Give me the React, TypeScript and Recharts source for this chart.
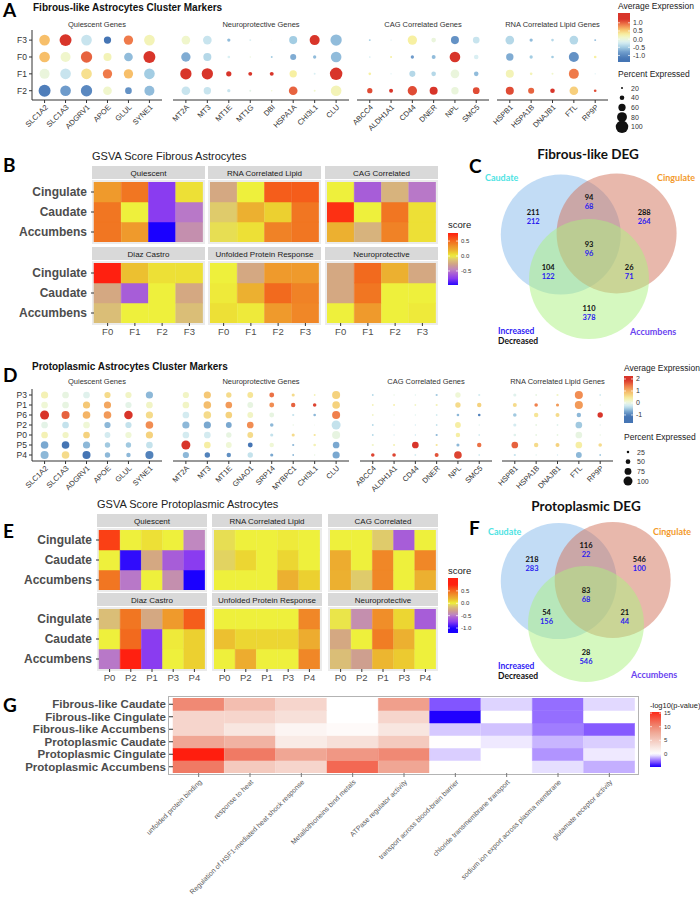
import React from 'react';
import { ScatterChart, Scatter, XAxis, YAxis, BarChart, Bar, Cell } from 'recharts';

const SANS = '"Liberation Sans", Arial, sans-serif';
const LATO = 'Lato, "Liberation Sans", sans-serif';

// ---------- Panel A: fibrous-like dot plot ----------
const fibRows = ['F3', 'F0', 'F1', 'F2'];
const fibQuiescentGenes = ['SLC1A2', 'SLC1A3', 'ADGRV1', 'APOE', 'GLUL', 'SYNE1'];
const fibNeuroGenes = ['MT2A', 'MT3', 'MT1E', 'MT1G', 'DBI', 'HSPA1A', 'CHI3L1', 'CLU'];
const fibCagGenes = ['ABCC4', 'ALDH1A1', 'CD44', 'DNER', 'NPL', 'SMC5'];
const rnaGenes = ['HSPB1', 'HSPA1B', 'DNAJB1', 'FTL', 'RP9P'];
const geneGroups = ['Quiescent Genes', 'Neuroprotective Genes', 'CAG Correlated Genes', 'RNA Correlated Lipid Genes'];

const fibQuiescentExpr = [
  [0.6, 1.2, -0.3, -1.2, 0.9, 0.2],
  [0.6, 0.1, 1.0, 0.2, -0.6, 1.2],
  [0.0, -0.3, 0.4, 0.9, 0.6, -0.5],
  [-1.1, -0.8, -1.0, 0.1, -0.9, -0.6],
];
const fibQuiescentPct = [
  [86, 96, 86, 60, 76, 86],
  [86, 81, 91, 66, 71, 96],
  [81, 86, 86, 76, 76, 86],
  [96, 86, 91, 71, 56, 81],
];
const fibNeuroExpr = [
  [0.1, -0.3, -0.6, -0.2, 0.0, -0.5, 1.3, -0.6],
  [-0.7, -0.4, -0.2, 0.0, -0.5, -0.7, -0.6, -0.6],
  [1.2, 1.3, 1.2, 1.2, 1.2, 0.3, -0.2, 1.2],
  [-0.3, -0.3, -0.3, -0.1, 0.1, 1.0, 0.1, 0.2],
];
const fibNeuroPct = [
  [71, 71, 30, 20, 12, 66, 81, 91],
  [76, 66, 25, 15, 20, 51, 30, 86],
  [91, 91, 45, 35, 35, 61, 20, 100],
  [71, 61, 30, 20, 15, 71, 20, 86],
];
const fibCagExpr = [
  [-0.5, -0.2, 0.3, 0.0, -0.9, -0.3],
  [-0.2, 0.3, -0.8, -0.6, 1.2, -0.2],
  [0.3, -0.2, -0.4, -0.4, 0.0, -0.6],
  [1.1, 1.2, 1.1, 1.2, 0.0, 1.1],
];
const fibCagPct = [
  [20, 15, 76, 40, 66, 56],
  [18, 20, 30, 35, 86, 40],
  [25, 15, 51, 40, 71, 40],
  [45, 35, 76, 66, 61, 56],
];
const fibRnaExpr = [
  [-0.4, -0.6, -0.4, -0.4, -0.6],
  [-0.7, -0.5, -0.5, -0.9, 0.3],
  [0.2, 0.2, 0.1, 0.9, -0.2],
  [1.1, 1.0, 1.2, 0.5, 1.1],
];
const fibRnaPct = [
  [71, 30, 25, 71, 20],
  [61, 30, 25, 81, 25],
  [66, 25, 20, 81, 15],
  [66, 51, 40, 71, 25],
];

// ---------- Panel D: protoplasmic dot plot ----------
const protoRows = ['P3', 'P1', 'P6', 'P2', 'P0', 'P5', 'P4'];
const protoNeuroGenes = ['MT2A', 'MT3', 'MT1E', 'GNAO1', 'SRP14', 'MYBPC1', 'CHI3L1', 'CLU'];
const protoQuiescentExpr = [
  [0.3, 0.0, -0.1, 0.6, 0.2, -0.6],
  [0.1, 0.0, 0.8, 1.1, -0.05, 0.2],
  [1.9, 1.6, 1.0, 1.2, 2.0, 0.6],
  [-0.05, -0.3, 0.1, -0.6, -0.3, 1.3],
  [0.3, 0.2, 0.7, -0.2, 0.1, 0.7],
  [-0.7, -1.1, -0.6, -0.5, -0.5, -0.3],
  [-0.6, 0.6, -1.1, -0.6, -0.6, -1.0],
];
const protoQuiescentPct = [
  [79, 73, 73, 68, 68, 79],
  [73, 73, 79, 79, 68, 73],
  [100, 89, 84, 84, 94, 79],
  [73, 73, 73, 68, 68, 84],
  [73, 68, 73, 63, 68, 79],
  [84, 84, 79, 58, 58, 73],
  [89, 84, 89, 58, 47, 89],
];
const protoNeuroExpr = [
  [0.2, 0.8, 0.6, 0.5, 1.5, 0.6, 0.3, 0.7],
  [0.2, 0.9, 1.2, 0.0, 1.3, 1.6, 1.8, 0.7],
  [-0.2, 0.6, 0.7, 0.2, 0.0, -0.3, -0.6, 1.4],
  [-0.6, -0.7, -0.7, 1.3, -0.6, 0.0, 0.0, -0.3],
  [-0.2, -0.2, 0.0, 0.6, -0.3, 0.6, 0.5, 0.0],
  [2.0, 0.4, 0.1, -1.2, 0.1, -0.6, 0.3, -0.7],
  [-0.6, -1.0, -0.9, -0.3, -0.7, -0.6, 0.0, -0.7],
];
const protoNeuroPct = [
  [68, 79, 58, 63, 52, 32, 16, 89],
  [73, 84, 73, 63, 52, 47, 37, 84],
  [73, 84, 73, 63, 52, 21, 26, 89],
  [79, 79, 63, 73, 37, 11, 6, 100],
  [73, 73, 58, 63, 32, 32, 21, 89],
  [100, 73, 63, 52, 47, 21, 26, 73],
  [68, 58, 47, 58, 32, 16, 11, 79],
];
const protoCagExpr = [
  [-0.4, 0.0, -0.1, -0.5, 0.1, -0.2],
  [0.3, 0.4, 0.2, 0.3, 0.6, 0.7],
  [0.2, 0.0, -0.1, -0.2, -0.6, -1.0],
  [-0.4, -0.2, -0.2, -0.3, 0.4, -0.1],
  [-0.4, -0.2, -0.3, -0.6, 0.4, -0.2],
  [0.2, 0.3, 1.9, 0.5, -0.6, 1.5],
  [1.8, 1.8, -0.2, 1.7, 1.8, -0.2],
];
const protoCagPct = [
  [16, 11, 11, 21, 58, 21],
  [16, 16, 16, 21, 58, 47],
  [16, 11, 11, 16, 26, 26],
  [16, 11, 11, 16, 63, 11],
  [16, 11, 11, 21, 47, 16],
  [21, 21, 73, 21, 32, 47],
  [37, 37, 16, 42, 84, 16],
];
const protoRnaExpr = [
  [-0.1, 0.0, 0.2, 1.3, -0.2],
  [0.6, 1.4, 1.2, 1.2, 0.0],
  [-0.5, 0.5, 0.6, -0.6, 1.9],
  [-0.2, 0.0, -0.1, -0.5, -0.1],
  [-0.1, 0.0, 0.0, 0.0, 0.0],
  [1.6, 0.6, 0.7, 0.4, 0.6],
  [-0.3, -0.1, -0.2, -0.6, -0.5],
];
const protoRnaPct = [
  [32, 16, 21, 89, 16],
  [42, 37, 32, 89, 11],
  [37, 47, 42, 47, 58],
  [32, 16, 16, 73, 11],
  [26, 16, 16, 73, 11],
  [73, 47, 42, 73, 37],
  [21, 11, 11, 63, 16],
];

// ---------- Panels B / E: GSVA heatmaps ----------
const regions = ['Cingulate', 'Caudate', 'Accumbens'];
const gsvaSets = ['Quiescent', 'RNA Correlated Lipid', 'CAG Correlated', 'Diaz Castro', 'Unfolded Protein Response', 'Neuroprotective'];
const fibClusters = ['F0', 'F1', 'F2', 'F3'];
const fibGsvaQuiescent = [[0.3, 0.45, -0.75, 0.05], [0.45, 0.0, -0.75, -0.5], [0.45, 0.3, -1.0, -0.4]];
const fibGsvaRnaLipid = [[-0.25, 0.0, 0.55, 0.55], [-0.1, 0.2, 0.1, 0.45], [-0.05, 0.05, 0.4, 0.45]];
const fibGsvaCag = [[0.0, -0.6, -0.2, -0.5], [0.7, 0.0, 0.45, 0.05], [0.2, -0.2, 0.4, 0.05]];
const fibGsvaDiaz = [[0.75, 0.15, 0.05, 0.05], [-0.25, -0.6, 0.0, -0.25], [-0.15, 0.0, 0.0, -0.15]];
const fibGsvaUpr = [[0.0, -0.25, 0.3, 0.3], [0.02, 0.2, 0.5, 0.4], [0.05, 0.02, 0.3, 0.38]];
const fibGsvaNeuro = [[-0.25, 0.5, 0.2, -0.25], [-0.25, 0.45, 0.0, 0.0], [0.0, 0.3, 0.0, 0.02]];

const protoClusters = ['P0', 'P2', 'P1', 'P3', 'P4'];
const protoGsvaQuiescent = [[0.65, 0.0, 0.05, 0.0, -0.45], [0.0, -0.95, -0.25, -0.6, -0.75], [0.45, -0.5, 0.0, -0.4, -1.0]];
const protoGsvaRnaLipid = [[-0.05, 0.0, 0.0, 0.02, 0.0], [-0.08, 0.08, 0.0, 0.08, 0.0], [0.0, 0.0, 0.0, 0.2, 0.1]];
const protoGsvaCag = [[0.0, 0.0, -0.1, -0.6, 0.0], [0.22, 0.0, 0.38, 0.0, 0.38], [0.2, -0.1, 0.38, 0.0, 0.2]];
const protoGsvaDiaz = [[-0.15, 0.45, -0.25, 0.3, 0.55], [0.0, 0.5, -0.75, 0.02, 0.1], [-0.5, 0.75, -0.75, 0.0, 0.1]];
const protoGsvaUpr = [[0.0, 0.0, 0.0, 0.0, 0.38], [0.15, 0.08, 0.08, 0.08, 0.22], [0.0, 0.22, 0.0, 0.0, 0.38]];
const protoGsvaNeuro = [[-0.03, -0.4, 0.35, 0.08, -0.6], [-0.25, 0.0, 0.42, 0.2, 0.0], [-0.15, -0.3, 0.18, 0.12, 0.0]];

// ---------- Panels C / F: DEG Venn counts ----------
// region order: Caudate only, Caudate∩Cingulate, Cingulate only, all three, Caudate∩Accumbens, Cingulate∩Accumbens, Accumbens only
const fibDegDecreased = [211, 94, 288, 93, 104, 26, 110];
const fibDegIncreased = [212, 68, 264, 96, 122, 71, 378];
const protoDegDecreased = [218, 116, 546, 83, 54, 21, 28];
const protoDegIncreased = [283, 22, 100, 68, 156, 44, 546];

// ---------- Panel G: enrichment ----------
const enrichRows = ['Fibrous-like Caudate', 'Fibrous-like Cingulate', 'Fibrous-like Accumbens', 'Protoplasmic Caudate', 'Protoplasmic Cingulate', 'Protoplasmic Accumbens'];
const enrichTerms = [
  'unfolded protein binding',
  'response to heat',
  'Regulation of HSF1-mediated heat shock response',
  'Metallothioneins bind metals',
  'ATPase regulator activity',
  'transport across blood-brain barrier',
  'chloride transmembrane transport',
  'sodium ion export across plasma membrane',
  'glutamate receptor activity',
];
const enrichLogP = [
  [10, 6, 4, 0, 8.5, -3, -0.8, -2.5, -0.7],
  [4, 4, 3, 0, 4, -4.5, 0, -2.5, 0],
  [4, 2.5, 1, 0.5, 2.5, -1, -1.1, -2.2, -2.9],
  [8, 7, 2, 3, 5, 0.1, -0.4, -1.3, -0.9],
  [16, 11, 8, 9, 10, -0.9, 0, -1.8, -0.4],
  [11, 5, 4, 12, 8, 0.1, 0, -0.6, -1.4],
];

// ---------- colour scales ----------
type Stop = [number, string];
function hexRgb(h: string) {
  const n = parseInt(h.slice(1), 16);
  return [(n >> 16) & 255, (n >> 8) & 255, n & 255];
}
function makeScale(stops: Stop[]) {
  return (v: number) => {
    if (v <= stops[0][0]) return stops[0][1];
    const last = stops[stops.length - 1];
    if (v >= last[0]) return last[1];
    for (let i = 1; i < stops.length; i++) {
      if (v <= stops[i][0]) {
        const t = (v - stops[i - 1][0]) / (stops[i][0] - stops[i - 1][0]);
        const a = hexRgb(stops[i - 1][1]);
        const b = hexRgb(stops[i][1]);
        return `rgb(${a.map((x, k) => Math.round(x + (b[k] - x) * t)).join(',')})`;
      }
    }
    return last[1];
  };
}

const exprColorA = makeScale([
  [-1.2, '#4575b4'], [-0.8, '#6e9bcb'], [-0.5, '#a3cde3'], [-0.2, '#daeff3'], [0.05, '#eef7d6'],
  [0.3, '#f7f0a2'], [0.6, '#f7bf6a'], [0.9, '#ef7a4a'], [1.2, '#d8352a'],
]);
const exprColorD = makeScale([
  [-1.1, '#4575b4'], [-0.7, '#7aa8d0'], [-0.4, '#b4d9e8'], [-0.15, '#dcf0f2'], [0.1, '#eff7d6'],
  [0.4, '#f6eea4'], [0.7, '#f5d27e'], [1.0, '#f4b466'], [1.4, '#f0804c'], [1.9, '#d8352a'],
]);
const gsvaColor = makeScale([
  [-1.0, '#1a00ff'], [-0.75, '#8a3cf0'], [-0.55, '#b068d0'], [-0.45, '#c088c0'], [-0.35, '#c8959c'],
  [-0.25, '#d4a882'], [-0.12, '#dcc474'], [0, '#eef03c'], [0.1, '#ecd030'], [0.2, '#ecb030'],
  [0.3, '#ef9a2c'], [0.4, '#f08226'], [0.5, '#f26a1e'], [0.6, '#f85018'], [0.75, '#ff2010'],
]);
const enrichColor = makeScale([
  [-4.5, '#2000ff'], [-3, '#8255ff'], [-2, '#a887ff'], [-1, '#d6c9ff'], [0, '#ffffff'],
  [2.5, '#f8e6e0'], [5, '#f4cabe'], [8, '#f0a694'], [11, '#f07a64'], [16, '#ff1e0e'],
]);

const radiusA = (p: number) => Math.max(0.4, (6.25 * (p - 5)) / 95);
const radiusD = (p: number) => Math.max(0.4, 0.2 + 0.043 * p);

// ---------- components ----------
const PAD = 24; // room on the left for rotated gene labels

function DotFacet(props: {
  left: number; top: number; plotW: number; plotH: number; yWidth: number; showY: boolean;
  genes: string[]; rows: string[]; expr: number[][]; pct: number[][]; yDomain: [number, number];
  color: (v: number) => string; radius: (p: number) => number;
}) {
  const { left, top, plotW, plotH, yWidth, showY, genes, rows, expr, pct, yDomain, color, radius } = props;
  const n = rows.length;
  const data: { x: number; y: number; e: number; p: number }[] = [];
  rows.forEach((_, ri) => genes.forEach((__, gi) => data.push({ x: gi, y: n - 1 - ri, e: expr[ri][gi], p: pct[ri][gi] })));
  const yW = showY ? yWidth : 0;
  const ml = showY ? 0 : PAD;
  return (
    <div style={{ position: 'absolute', left: left - ml, top }}>
      <ScatterChart width={ml + yW + plotW} height={plotH + 42} margin={{ top: 0, right: 0, bottom: 0, left: ml }}>
        <XAxis
          type="number" dataKey="x" domain={[-0.6, genes.length - 0.4]} ticks={genes.map((_, i) => i)}
          interval={0} tickFormatter={(v) => genes[v]} angle={-45} textAnchor="end" height={42}
          tickSize={3} tickMargin={1} stroke="#333" tick={{ fontSize: 7.5, fill: '#333' }} allowDataOverflow
        />
        <YAxis
          type="number" dataKey="y" domain={yDomain} ticks={rows.map((_, i) => i)} interval={0}
          tickFormatter={(v) => rows[n - 1 - v]} hide={!showY} width={yW} tickSize={3} tickMargin={2}
          stroke="#333" tick={{ fontSize: 8.5, fill: '#333' }} allowDataOverflow
        />
        <Scatter
          data={data}
          isAnimationActive={false}
          shape={(s: any) => <circle cx={s.cx} cy={s.cy} r={radius(s.payload.p)} fill={color(s.payload.e)} />}
        />
      </ScatterChart>
    </div>
  );
}

function HeatFacet(props: {
  stripLeft: number; stripW: number; tilesTop: number; tileH: number;
  cols: string[]; values: number[][]; showY: boolean; showX: boolean;
}) {
  const { stripLeft, stripW, tilesTop, tileH, cols, values, showY, showX } = props;
  const tilesLeft = stripLeft + 2;
  const tilesW = stripW - 4;
  const yW = showY ? tilesLeft : 0;
  const n = regions.length;
  const data = cols.map((c) => {
    const d: Record<string, any> = { name: c };
    regions.forEach((r) => { d[r] = 1; });
    return d;
  });
  const order = regions.map((_, i) => n - 1 - i);
  return (
    <div style={{ position: 'absolute', left: showY ? 0 : tilesLeft, top: tilesTop }}>
      <BarChart width={yW + tilesW} height={tileH + (showX ? 20 : 0)} data={data} margin={{ top: 0, right: 0, bottom: 0, left: 0 }} barCategoryGap={0} barGap={0}>
        <XAxis dataKey="name" hide={!showX} height={20} axisLine={false} tickSize={3} tickMargin={2} interval={0} stroke="#333" tick={{ fontSize: 9.5, fill: '#4d4d4d' }} />
        <YAxis
          type="number" domain={[0, n]} ticks={regions.map((_, i) => i + 0.5)} interval={0}
          tickFormatter={(v) => regions[n - 1 - Math.floor(v)]} hide={!showY} width={yW}
          axisLine={false} tickSize={3} tickMargin={4} stroke="#333"
          tick={{ fontSize: 12, fontWeight: 700, fill: '#4d4d4d' }} allowDataOverflow
        />
        {order.map((k) => (
          <Bar key={regions[k]} dataKey={regions[k]} stackId="s" isAnimationActive={false}>
            {values[k].map((v, j) => (
              <Cell key={j} fill={gsvaColor(v)} stroke={gsvaColor(v)} strokeWidth={0.5} />
            ))}
          </Bar>
        ))}
      </BarChart>
    </div>
  );
}

// Venn layout in units of circle radius (centre of the three-way overlap at 0,0)
const vennSetNames = ['Caudate', 'Cingulate', 'Accumbens'];
const vennCentres: [number, number][] = [[-0.47, 0.24], [0.46, 0.26], [0, -0.5]];
const vennFill: Record<string, string> = { Caudate: '#85b9eb', Cingulate: '#d1715a', Accumbens: '#abf180' };
const vennRegionPos: [number, number][] = [[-0.93, 0.53], [0, 0.78], [0.92, 0.53], [0, 0], [-0.68, -0.38], [0.67, -0.38], [0, -1.07]];

function Venn(props: { left: number; top: number; ppu: number; xDomain: [number, number]; yDomain: [number, number]; dec: number[]; inc: number[] }) {
  const { left, top, ppu, xDomain, yDomain, dec, inc } = props;
  const circles = vennSetNames.map((name, i) => ({ name, x: vennCentres[i][0], y: vennCentres[i][1] }));
  const labels = vennRegionPos.map((p, i) => ({ x: p[0], y: p[1], dec: dec[i], inc: inc[i] }));
  const w = (xDomain[1] - xDomain[0]) * ppu;
  const h = (yDomain[1] - yDomain[0]) * ppu;
  return (
    <div style={{ position: 'absolute', left, top }}>
      <ScatterChart width={w} height={h} margin={{ top: 0, right: 0, bottom: 0, left: 0 }}>
        <XAxis type="number" dataKey="x" domain={xDomain} hide allowDataOverflow />
        <YAxis type="number" dataKey="y" domain={yDomain} hide allowDataOverflow />
        <Scatter
          data={circles}
          isAnimationActive={false}
          shape={(s: any) => <circle cx={s.cx} cy={s.cy} r={ppu} fill={vennFill[s.payload.name]} fillOpacity={0.5} />}
        />
        <Scatter
          data={labels}
          isAnimationActive={false}
          shape={(s: any) => (
            <g fontFamily={LATO} fontWeight={700} fontSize={7.5} textAnchor="middle">
              <text x={s.cx} y={s.cy - 1.8} fill="#111">{s.payload.dec}</text>
              <text x={s.cx} y={s.cy + 7.2} fill="#2b1cf0">{s.payload.inc}</text>
            </g>
          )}
        />
      </ScatterChart>
    </div>
  );
}

function ColorBar(props: { id: string; x: number; y: number; w: number; h: number; vTop: number; vBottom: number; scale: (v: number) => string; ticks: number[]; fmt: (v: number) => string; fs: number }) {
  const { id, x, y, w, h, vTop, vBottom, scale, ticks, fmt, fs } = props;
  const samples = Array.from({ length: 25 }, (_, i) => i / 24);
  return (
    <g>
      <defs>
        <linearGradient id={id} x1="0" y1="0" x2="0" y2="1">
          {samples.map((t, i) => (
            <stop key={i} offset={`${t * 100}%`} stopColor={scale(vTop + (vBottom - vTop) * t)} />
          ))}
        </linearGradient>
      </defs>
      <rect x={x} y={y} width={w} height={h} fill={`url(#${id})`} />
      {ticks.map((t) => {
        const ty = y + ((vTop - t) / (vTop - vBottom)) * h;
        return (
          <g key={t}>
            <line x1={x} x2={x + 2} y1={ty} y2={ty} stroke="#fff" strokeWidth={0.7} />
            <line x1={x + w - 2} x2={x + w} y1={ty} y2={ty} stroke="#fff" strokeWidth={0.7} />
            <text x={x + w + 3} y={ty + fs * 0.35} fontSize={fs} fill="#333">{fmt(t)}</text>
          </g>
        );
      })}
    </g>
  );
}

function SizeLegend(props: { x: number; y: number; title: string; titleY: number; values: number[]; step: number; radius: (p: number) => number }) {
  const { x, y, title, titleY, values, step, radius } = props;
  return (
    <g>
      <text x={x} y={titleY} fontSize={8.5} fill="#222">{title}</text>
      {values.map((v, i) => (
        <g key={v}>
          <circle cx={x + 4} cy={y + i * step} r={radius(v)} fill="#111" />
          <text x={x + 13} y={y + i * step + 2.5} fontSize={7} fill="#333">{v}</text>
        </g>
      ))}
    </g>
  );
}

const fibGsva = [fibGsvaQuiescent, fibGsvaRnaLipid, fibGsvaCag, fibGsvaDiaz, fibGsvaUpr, fibGsvaNeuro];
const protoGsva = [protoGsvaQuiescent, protoGsvaRnaLipid, protoGsvaCag, protoGsvaDiaz, protoGsvaUpr, protoGsvaNeuro];
const bLefts = [92, 208, 325];
const bTops = [182, 263];
const eLefts = [97, 212, 328];
const eTops = [530, 609];

export default function App() {
  const gData = enrichTerms.map((t) => {
    const d: Record<string, any> = { term: t };
    enrichRows.forEach((r) => { d[r] = 1; });
    return d;
  });
  const nG = enrichRows.length;

  const aFacets = [
    { left: 0, plotW: 130, genes: fibQuiescentGenes, expr: fibQuiescentExpr, pct: fibQuiescentPct },
    { left: 173, plotW: 176, genes: fibNeuroGenes, expr: fibNeuroExpr, pct: fibNeuroPct },
    { left: 357, plotW: 132, genes: fibCagGenes, expr: fibCagExpr, pct: fibCagPct },
    { left: 497, plotW: 111, genes: rnaGenes, expr: fibRnaExpr, pct: fibRnaPct },
  ];
  const dFacets = [
    { left: 0, plotW: 130, genes: fibQuiescentGenes, expr: protoQuiescentExpr, pct: protoQuiescentPct },
    { left: 173, plotW: 176, genes: protoNeuroGenes, expr: protoNeuroExpr, pct: protoNeuroPct },
    { left: 360, plotW: 132, genes: fibCagGenes, expr: protoCagExpr, pct: protoCagPct },
    { left: 502, plotW: 111, genes: rnaGenes, expr: protoRnaExpr, pct: protoRnaPct },
  ];

  const letter = (ch: string, x: number, y: number) => (
    <text x={x} y={y} fontFamily={LATO} fontWeight={700} fontSize={19} fill="#000">{ch}</text>
  );

  return (
    <div style={{ position: 'absolute', left: 0, top: 0, width: 700, height: 902, background: '#fff', overflow: 'hidden', fontFamily: SANS }}>
      {/* background layer: facet strips, panel backgrounds, G frame */}
      <svg width={700} height={902} style={{ position: 'absolute', left: 0, top: 0 }}>
        {gsvaSets.map((s, i) => {
          const l = bLefts[i % 3];
          const t = bTops[Math.floor(i / 3)];
          return (
            <g key={'b' + s}>
              <rect x={l} y={t - 16} width={113} height={13} fill="#d9d9d9" />
              <rect x={l} y={t - 2} width={113} height={64} fill="#ebebeb" />
            </g>
          );
        })}
        {gsvaSets.map((s, i) => {
          const l = eLefts[i % 3];
          const t = eTops[Math.floor(i / 3)];
          return (
            <g key={'e' + s}>
              <rect x={l} y={t - 16} width={110} height={13} fill="#d9d9d9" />
              <rect x={l} y={t - 2} width={110} height={64} fill="#ebebeb" />
            </g>
          );
        })}
        <rect x={168.5} y={696.5} width={470} height={78} fill="none" stroke="#b3b3b3" strokeWidth={1} />
      </svg>

      {aFacets.map((f, i) => (
        <DotFacet key={'a' + i} left={f.left} top={30} plotW={f.plotW} plotH={70} yWidth={32} showY={i === 0}
          genes={f.genes} rows={fibRows} expr={f.expr} pct={f.pct} yDomain={[-0.55, 3.6]} color={exprColorA} radius={radiusA} />
      ))}
      {dFacets.map((f, i) => (
        <DotFacet key={'d' + i} left={f.left} top={389} plotW={f.plotW} plotH={72} yWidth={32} showY={i === 0}
          genes={f.genes} rows={protoRows} expr={f.expr} pct={f.pct} yDomain={[-0.6, 6.6]} color={exprColorD} radius={radiusD} />
      ))}

      {fibGsva.map((vals, i) => (
        <HeatFacet key={'hb' + i} stripLeft={bLefts[i % 3]} stripW={113} tilesTop={bTops[Math.floor(i / 3)]} tileH={60}
          cols={fibClusters} values={vals} showY={i % 3 === 0} showX={i >= 3} />
      ))}
      {protoGsva.map((vals, i) => (
        <HeatFacet key={'he' + i} stripLeft={eLefts[i % 3]} stripW={110} tilesTop={eTops[Math.floor(i / 3)]} tileH={60}
          cols={protoClusters} values={vals} showY={i % 3 === 0} showX={i >= 3} />
      ))}

      <Venn left={469} top={129} ppu={60} xDomain={[-2, 1.85]} yDomain={[-2, 2]} dec={fibDegDecreased} inc={fibDegIncreased} />
      <Venn left={470} top={479} ppu={58} xDomain={[-2, 1.9]} yDomain={[-2, 2]} dec={protoDegDecreased} inc={protoDegIncreased} />

      <div style={{ position: 'absolute', left: 0, top: 698 }}>
        <BarChart width={635} height={75 + 128} data={gData} margin={{ top: 0, right: 0, bottom: 0, left: 0 }} barCategoryGap={0} barGap={0}>
          <XAxis dataKey="term" interval={0} angle={-45} textAnchor="end" height={128} axisLine={false}
            tickSize={4} tickMargin={2} stroke="#777" tick={{ fontSize: 7, fill: '#595959' }} />
          <YAxis type="number" domain={[0, nG]} ticks={enrichRows.map((_, i) => i + 0.5)} interval={0}
            tickFormatter={(v) => enrichRows[nG - 1 - Math.floor(v)]} width={173} axisLine={false}
            tickSize={4} tickMargin={3} stroke="#333" tick={{ fontSize: 11.5, fontWeight: 700, fill: '#4d4d4d' }} allowDataOverflow />
          {enrichRows.map((_, i) => nG - 1 - i).map((k) => (
            <Bar key={enrichRows[k]} dataKey={enrichRows[k]} stackId="g" isAnimationActive={false}>
              {enrichLogP[k].map((v, j) => (
                <Cell key={j} fill={enrichColor(v)} stroke={enrichColor(v)} strokeWidth={0.5} />
              ))}
            </Bar>
          ))}
        </BarChart>
      </div>

      {/* annotation layer */}
      <svg width={700} height={902} style={{ position: 'absolute', left: 0, top: 0, pointerEvents: 'none' }}>
        {letter('A', 3, 17)}
        {letter('B', 3, 172)}
        {letter('C', 469, 173)}
        {letter('D', 3, 382)}
        {letter('E', 3, 538)}
        {letter('F', 469, 535)}
        {letter('G', 3, 712)}

        <text x={33} y={11} fontSize={10} fontWeight={700} fill="#111">Fibrous-like Astrocytes Cluster Markers</text>
        <text x={32} y={370} fontSize={10} fontWeight={700} fill="#111">Protoplasmic Astrocytes Cluster Markers</text>
        {aFacets.map((f, i) => (
          <text key={'at' + i} x={(i === 0 ? 32 : f.left) + f.plotW / 2} y={27} fontSize={7.5} fill="#333" textAnchor="middle">{geneGroups[i]}</text>
        ))}
        {dFacets.map((f, i) => (
          <text key={'dt' + i} x={(i === 0 ? 32 : f.left) + f.plotW / 2} y={384} fontSize={7.5} fill="#333" textAnchor="middle">{geneGroups[i]}</text>
        ))}

        <text x={618} y={9} fontSize={8.5} fill="#222">Average Expression</text>
        <ColorBar id="cbA" x={618} y={13} w={12} h={49} vTop={1.6} vBottom={-1.4} scale={exprColorA} ticks={[1, 0.5, 0, -0.5, -1]} fmt={(v) => v.toFixed(1)} fs={7} />
        <SizeLegend x={618} y={88} title="Percent Expressed" titleY={77} values={[20, 40, 60, 80, 100]} step={9.7} radius={radiusA} />

        <text x={624} y={371} fontSize={8.5} fill="#222">Average Expression</text>
        <ColorBar id="cbD" x={624} y={376} w={9} h={47} vTop={2.25} vBottom={-1.67} scale={exprColorD} ticks={[2, 1, 0, -1]} fmt={(v) => String(v)} fs={7} />
        <SizeLegend x={624} y={452} title="Percent Expressed" titleY={440} values={[25, 50, 75, 100]} step={9.7} radius={radiusD} />

        <text x={92} y={160} fontSize={11} fill="#222">GSVA Score Fibrous Astrocytes</text>
        <text x={97} y={508} fontSize={11} fill="#222">GSVA Score Protoplasmic Astrocytes</text>
        {gsvaSets.map((s, i) => (
          <text key={'sb' + s} x={bLefts[i % 3] + 56.5} y={bTops[Math.floor(i / 3)] - 6.5} fontSize={8} fill="#1a1a1a" textAnchor="middle">{s}</text>
        ))}
        {gsvaSets.map((s, i) => (
          <text key={'se' + s} x={eLefts[i % 3] + 55} y={eTops[Math.floor(i / 3)] - 6.5} fontSize={8} fill="#1a1a1a" textAnchor="middle">{s}</text>
        ))}
        <text x={448} y={228} fontSize={9.5} fill="#222">score</text>
        <ColorBar id="cbB" x={448} y={233} w={10} h={52} vTop={0.77} vBottom={-0.97} scale={gsvaColor} ticks={[0.5, 0, -0.5]} fmt={(v) => v.toFixed(1)} fs={6} />
        <text x={448} y={574} fontSize={9.5} fill="#222">score</text>
        <ColorBar id="cbE" x={448} y={578} w={10} h={55} vTop={1.02} vBottom={-1.2} scale={gsvaColor} ticks={[0.5, 0, -0.5, -1]} fmt={(v) => v.toFixed(1)} fs={6} />

        <g fontFamily={LATO} fontWeight={700}>
          <text x={588} y={159} fontSize={13.5} fill="#111" textAnchor="middle">Fibrous-like DEG</text>
          <text x={485} y={181} fontSize={9} fill="#4ee3e3">Caudate</text>
          <text x={657} y={181} fontSize={9} fill="#f39a2c">Cingulate</text>
          <text x={630} y={335} fontSize={9} fill="#6a44f0">Accumbens</text>
          <text x={498} y={334} fontSize={8.5} fill="#2f1cf5">Increased</text>
          <text x={498} y={344} fontSize={8.5} fill="#111">Decreased</text>

          <text x={586} y={511} fontSize={13.5} fill="#111" textAnchor="middle">Protoplasmic DEG</text>
          <text x={488} y={535} fontSize={9} fill="#4ee3e3">Caudate</text>
          <text x={653} y={535} fontSize={9} fill="#f39a2c">Cingulate</text>
          <text x={631} y={678} fontSize={9} fill="#6a44f0">Accumbens</text>
          <text x={498} y={669} fontSize={8.5} fill="#2f1cf5">Increased</text>
          <text x={498} y={679} fontSize={8.5} fill="#111">Decreased</text>
        </g>

        <text x={650} y={708} fontSize={7.5} fill="#222">-log10(p-value)</text>
        <ColorBar id="cbG" x={650} y={712} w={11} h={55} vTop={15.4} vBottom={-4.8} scale={enrichColor} ticks={[15, 10, 5, 0]} fmt={(v) => String(v)} fs={6} />
      </svg>
    </div>
  );
}
